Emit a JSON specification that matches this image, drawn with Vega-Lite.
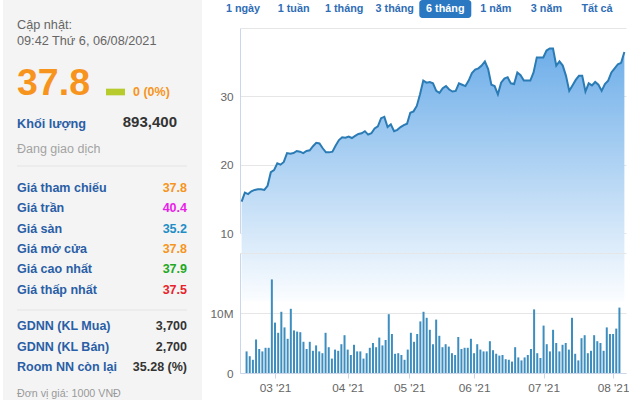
{
  "$schema": "https://vega.github.io/schema/vega-lite/v6.json",
  "padding": {"left": 3, "top": 0, "right": 0, "bottom": 0},
  "background": "white",
  "bounds": "flush",
  "spacing": 38,
  "datasets": {
    "quote": [{"price": "37.8", "change": "0 (0%)", "volume": "893,400", "status": "Đang giao dịch"}],
    "table": [
      {"label": "Giá tham chiếu", "value": "37.8", "kind": "ref"},
      {"label": "Giá trần", "value": "40.4", "kind": "ceil"},
      {"label": "Giá sàn", "value": "35.2", "kind": "floor"},
      {"label": "Giá mở cửa", "value": "37.8", "kind": "ref"},
      {"label": "Giá cao nhất", "value": "37.9", "kind": "up"},
      {"label": "Giá thấp nhất", "value": "37.5", "kind": "down"}
    ],
    "foreign": [
      {"label": "GDNN (KL Mua)", "value": "3,700"},
      {"label": "GDNN (KL Bán)", "value": "2,700"},
      {"label": "Room NN còn lại", "value": "35.28 (%)"}
    ],
    "tabs": [
      {"tab": "1 ngày", "active": false},
      {"tab": "1 tuần", "active": false},
      {"tab": "1 tháng", "active": false},
      {"tab": "3 tháng", "active": false},
      {"tab": "6 tháng", "active": true},
      {"tab": "1 năm", "active": false},
      {"tab": "3 năm", "active": false},
      {"tab": "Tất cả", "active": false}
    ],
    "series": [
      {"i": 0, "price": 14.6, "vol": 3.6}, {"i": 1, "price": 15.9, "vol": 2.8}, {"i": 2, "price": 15.7, "vol": 2.2},
      {"i": 3, "price": 16.1, "vol": 5.6}, {"i": 4, "price": 16.3, "vol": 4.0}, {"i": 5, "price": 16.4, "vol": 3.6},
      {"i": 6, "price": 16.4, "vol": 4.2}, {"i": 7, "price": 16.3, "vol": 4.2}, {"i": 8, "price": 16.9, "vol": 15.6},
      {"i": 9, "price": 18.9, "vol": 8.4}, {"i": 10, "price": 19.2, "vol": 6.7}, {"i": 11, "price": 20.2, "vol": 10.2},
      {"i": 12, "price": 20.0, "vol": 7.6}, {"i": 13, "price": 20.4, "vol": 5.7}, {"i": 14, "price": 21.7, "vol": 10.7},
      {"i": 15, "price": 21.6, "vol": 7.1}, {"i": 16, "price": 21.7, "vol": 6.9}, {"i": 17, "price": 22.0, "vol": 6.8},
      {"i": 18, "price": 21.9, "vol": 5.2}, {"i": 19, "price": 21.7, "vol": 4.0}, {"i": 20, "price": 22.0, "vol": 5.2},
      {"i": 21, "price": 22.1, "vol": 3.7}, {"i": 22, "price": 22.7, "vol": 4.6}, {"i": 23, "price": 23.2, "vol": 3.6},
      {"i": 24, "price": 23.1, "vol": 3.3}, {"i": 25, "price": 22.4, "vol": 6.7}, {"i": 26, "price": 21.8, "vol": 4.3},
      {"i": 27, "price": 21.8, "vol": 2.4}, {"i": 28, "price": 21.9, "vol": 3.9}, {"i": 29, "price": 22.8, "vol": 3.7},
      {"i": 30, "price": 23.6, "vol": 4.8}, {"i": 31, "price": 24.0, "vol": 6.3}, {"i": 32, "price": 23.95, "vol": 3.9},
      {"i": 33, "price": 24.1, "vol": 3.0}, {"i": 34, "price": 23.9, "vol": 4.7}, {"i": 35, "price": 24.2, "vol": 3.6},
      {"i": 36, "price": 24.5, "vol": 3.6}, {"i": 37, "price": 24.6, "vol": 2.4}, {"i": 38, "price": 24.9, "vol": 3.3},
      {"i": 39, "price": 24.4, "vol": 4.2}, {"i": 40, "price": 24.6, "vol": 5.0}, {"i": 41, "price": 25.3, "vol": 4.3},
      {"i": 42, "price": 25.6, "vol": 5.9}, {"i": 43, "price": 26.8, "vol": 4.6}, {"i": 44, "price": 27.0, "vol": 5.5},
      {"i": 45, "price": 25.5, "vol": 9.8}, {"i": 46, "price": 25.9, "vol": 6.5}, {"i": 47, "price": 24.9, "vol": 3.2},
      {"i": 48, "price": 25.1, "vol": 3.3}, {"i": 49, "price": 25.5, "vol": 3.0}, {"i": 50, "price": 25.8, "vol": 2.2},
      {"i": 51, "price": 26.0, "vol": 3.9}, {"i": 52, "price": 27.6, "vol": 6.7}, {"i": 53, "price": 27.8, "vol": 5.2},
      {"i": 54, "price": 28.6, "vol": 6.5}, {"i": 55, "price": 30.3, "vol": 8.6}, {"i": 56, "price": 32.3, "vol": 10.2},
      {"i": 57, "price": 32.0, "vol": 9.2}, {"i": 58, "price": 32.1, "vol": 7.2}, {"i": 59, "price": 31.9, "vol": 4.8},
      {"i": 60, "price": 30.8, "vol": 8.9}, {"i": 61, "price": 30.5, "vol": 6.2}, {"i": 62, "price": 31.2, "vol": 4.3},
      {"i": 63, "price": 31.5, "vol": 4.8}, {"i": 64, "price": 31.0, "vol": 4.4}, {"i": 65, "price": 30.7, "vol": 3.3},
      {"i": 66, "price": 30.8, "vol": 3.0}, {"i": 67, "price": 31.9, "vol": 6.0}, {"i": 68, "price": 31.7, "vol": 4.0},
      {"i": 69, "price": 31.5, "vol": 4.2}, {"i": 70, "price": 32.3, "vol": 4.2}, {"i": 71, "price": 33.4, "vol": 5.7},
      {"i": 72, "price": 33.9, "vol": 3.3}, {"i": 73, "price": 34.1, "vol": 4.8}, {"i": 74, "price": 34.5, "vol": 3.9},
      {"i": 75, "price": 35.1, "vol": 3.6}, {"i": 76, "price": 34.0, "vol": 3.6}, {"i": 77, "price": 31.7, "vol": 5.3},
      {"i": 78, "price": 31.5, "vol": 3.8}, {"i": 79, "price": 30.3, "vol": 3.2}, {"i": 80, "price": 32.0, "vol": 2.9},
      {"i": 81, "price": 32.6, "vol": 3.0}, {"i": 82, "price": 32.8, "vol": 2.3}, {"i": 83, "price": 31.9, "vol": 2.2},
      {"i": 84, "price": 31.8, "vol": 1.9}, {"i": 85, "price": 33.5, "vol": 4.3}, {"i": 86, "price": 33.1, "vol": 2.6},
      {"i": 87, "price": 32.3, "vol": 2.1}, {"i": 88, "price": 32.3, "vol": 2.6}, {"i": 89, "price": 32.3, "vol": 3.0},
      {"i": 90, "price": 33.5, "vol": 4.0}, {"i": 91, "price": 35.7, "vol": 10.6}, {"i": 92, "price": 35.7, "vol": 3.3},
      {"i": 93, "price": 35.7, "vol": 2.5}, {"i": 94, "price": 36.7, "vol": 7.9}, {"i": 95, "price": 37.0, "vol": 4.8},
      {"i": 96, "price": 37.0, "vol": 3.6}, {"i": 97, "price": 34.5, "vol": 7.2}, {"i": 98, "price": 35.1, "vol": 5.0},
      {"i": 99, "price": 34.5, "vol": 3.6}, {"i": 100, "price": 33.0, "vol": 4.7}, {"i": 101, "price": 30.8, "vol": 5.0},
      {"i": 102, "price": 31.6, "vol": 3.9}, {"i": 103, "price": 32.4, "vol": 9.2}, {"i": 104, "price": 33.0, "vol": 3.2},
      {"i": 105, "price": 33.0, "vol": 2.1}, {"i": 106, "price": 30.7, "vol": 5.8}, {"i": 107, "price": 31.9, "vol": 6.3},
      {"i": 108, "price": 31.6, "vol": 3.3}, {"i": 109, "price": 32.1, "vol": 3.7}, {"i": 110, "price": 31.7, "vol": 6.3},
      {"i": 111, "price": 30.8, "vol": 5.3}, {"i": 112, "price": 31.8, "vol": 5.0}, {"i": 113, "price": 32.3, "vol": 3.7},
      {"i": 114, "price": 33.5, "vol": 7.6}, {"i": 115, "price": 34.1, "vol": 6.5}, {"i": 116, "price": 34.7, "vol": 6.5},
      {"i": 117, "price": 34.9, "vol": 7.4}, {"i": 118, "price": 36.5, "vol": 10.9}
    ]
  },
  "hconcat": [
    {
      "width": 199,
      "height": 400,
      "view": {"fill": "#f4f4f4", "stroke": null},
      "data": {"name": "quote"},
      "resolve": {"scale": {"x": "independent", "y": "independent", "color": "independent"}},
      "layer": [
        {
          "data": {"values": [{"line": "Cập nhật:"}, {"line": "09:42 Thứ 6, 06/08/2021"}]},
          "mark": {"type": "text", "align": "left", "baseline": "alphabetic", "fontSize": 12.7, "color": "#666666"},
          "encoding": {
            "x": {"datum": "label", "type": "nominal", "scale": {"type": "point", "domain": ["label", "value"], "range": [14, 184], "padding": 0}, "axis": null},
            "y": {"field": "line", "type": "nominal", "sort": null, "scale": {"type": "point", "range": [28.5, 44.5], "padding": 0}, "axis": null},
            "text": {"field": "line"}
          }
        },
        {
          "mark": {"type": "text", "align": "left", "baseline": "alphabetic", "fontSize": 37.5, "fontWeight": "bold", "color": "#f7941d"},
          "encoding": {
            "x": {"datum": "label", "type": "nominal", "scale": {"type": "point", "domain": ["label", "value"], "range": [14, 184], "padding": 0}, "axis": null},
            "y": {"datum": "a", "type": "nominal", "scale": {"type": "point", "domain": ["a"], "range": [94, 96], "padding": 0}, "axis": null},
            "text": {"field": "price"}
          }
        },
        {
          "mark": {"type": "point", "shape": "M-1,-0.35L1,-0.35L1,0.35L-1,0.35Z", "size": 361, "filled": true, "opacity": 1, "color": "#b7cb2c"},
          "encoding": {
            "x": {"datum": "flag", "type": "nominal", "scale": {"type": "point", "domain": ["flag", "pct"], "range": [112.5, 130], "padding": 0}, "axis": null},
            "y": {"datum": "a", "type": "nominal", "scale": {"type": "point", "domain": ["a"], "range": [91, 93], "padding": 0}, "axis": null}
          }
        },
        {
          "mark": {"type": "text", "align": "left", "baseline": "alphabetic", "fontSize": 12.5, "fontWeight": "bold", "color": "#f7941d"},
          "encoding": {
            "x": {"datum": "pct", "type": "nominal", "scale": {"type": "point", "domain": ["flag", "pct"], "range": [112.5, 130], "padding": 0}, "axis": null},
            "y": {"datum": "a", "type": "nominal", "scale": {"type": "point", "domain": ["a"], "range": [94.5, 96.5], "padding": 0}, "axis": null},
            "text": {"field": "change"}
          }
        },
        {
          "mark": {"type": "text", "text": "Khối lượng", "align": "left", "baseline": "alphabetic", "fontSize": 12.7, "fontWeight": "bold", "color": "#2a5ea6"},
          "encoding": {
            "x": {"datum": "label", "type": "nominal", "scale": {"type": "point", "domain": ["label", "value"], "range": [14, 184], "padding": 0}, "axis": null},
            "y": {"datum": "a", "type": "nominal", "scale": {"type": "point", "domain": ["a"], "range": [126.5, 128.5], "padding": 0}, "axis": null}
          }
        },
        {
          "mark": {"type": "text", "align": "right", "baseline": "alphabetic", "fontSize": 15, "fontWeight": "bold", "color": "#333333"},
          "encoding": {
            "x": {"datum": "value", "type": "nominal", "scale": {"type": "point", "domain": ["label", "value"], "range": [14, 174], "padding": 0}, "axis": null},
            "y": {"datum": "a", "type": "nominal", "scale": {"type": "point", "domain": ["a"], "range": [125.5, 127.5], "padding": 0}, "axis": null},
            "text": {"field": "volume"}
          }
        },
        {
          "mark": {"type": "text", "align": "left", "baseline": "alphabetic", "fontSize": 12.5, "color": "#a3a3a3"},
          "encoding": {
            "x": {"datum": "label", "type": "nominal", "scale": {"type": "point", "domain": ["label", "value"], "range": [14, 184], "padding": 0}, "axis": null},
            "y": {"datum": "a", "type": "nominal", "scale": {"type": "point", "domain": ["a"], "range": [151.5, 153.5], "padding": 0}, "axis": null},
            "text": {"field": "status"}
          }
        },
        {
          "data": {"values": [{"sep": "top"}, {"sep": "bottom"}]},
          "mark": {"type": "rule", "color": "#e4e4e4", "strokeWidth": 1},
          "encoding": {
            "x": {"datum": 0, "type": "quantitative", "scale": {"domain": [0, 1], "range": [14, 184]}, "axis": null},
            "x2": {"datum": 1},
            "y": {"field": "sep", "type": "nominal", "sort": null, "scale": {"type": "point", "range": [166, 310], "padding": 0}, "axis": null}
          }
        },
        {
          "data": {"name": "table"},
          "mark": {"type": "text", "align": "left", "baseline": "alphabetic", "fontSize": 12.5, "fontWeight": "bold", "color": "#2a5ea6"},
          "encoding": {
            "x": {"datum": "label", "type": "nominal", "scale": {"type": "point", "domain": ["label", "value"], "range": [14, 184], "padding": 0}, "axis": null},
            "y": {"field": "label", "type": "nominal", "sort": null, "scale": {"type": "point", "range": [191.7, 293.7], "padding": 0}, "axis": null},
            "text": {"field": "label"}
          }
        },
        {
          "data": {"name": "table"},
          "mark": {"type": "text", "align": "right", "baseline": "alphabetic", "fontSize": 12.5, "fontWeight": "bold"},
          "encoding": {
            "x": {"datum": "value", "type": "nominal", "scale": {"type": "point", "domain": ["label", "value"], "range": [14, 184], "padding": 0}, "axis": null},
            "y": {"field": "label", "type": "nominal", "sort": null, "scale": {"type": "point", "range": [191.7, 293.7], "padding": 0}, "axis": null},
            "text": {"field": "value"},
            "color": {"field": "kind", "type": "nominal", "scale": {"domain": ["ref", "ceil", "floor", "up", "down"], "range": ["#f7941d", "#ea1cea", "#1f8ec6", "#22a822", "#e8232b"]}, "legend": null}
          }
        },
        {
          "data": {"name": "foreign"},
          "mark": {"type": "text", "align": "left", "baseline": "alphabetic", "fontSize": 12.5, "fontWeight": "bold", "color": "#2a5ea6"},
          "encoding": {
            "x": {"datum": "label", "type": "nominal", "scale": {"type": "point", "domain": ["label", "value"], "range": [14, 184], "padding": 0}, "axis": null},
            "y": {"field": "label", "type": "nominal", "sort": null, "scale": {"type": "point", "range": [330, 371], "padding": 0}, "axis": null},
            "text": {"field": "label"}
          }
        },
        {
          "data": {"name": "foreign"},
          "mark": {"type": "text", "align": "right", "baseline": "alphabetic", "fontSize": 12.5, "fontWeight": "bold", "color": "#333333"},
          "encoding": {
            "x": {"datum": "value", "type": "nominal", "scale": {"type": "point", "domain": ["label", "value"], "range": [14, 184], "padding": 0}, "axis": null},
            "y": {"field": "label", "type": "nominal", "sort": null, "scale": {"type": "point", "range": [330, 371], "padding": 0}, "axis": null},
            "text": {"field": "value"}
          }
        },
        {
          "mark": {"type": "text", "text": "Đơn vị giá: 1000 VNĐ", "align": "left", "baseline": "alphabetic", "fontSize": 10.7, "color": "#999999"},
          "encoding": {
            "x": {"datum": "label", "type": "nominal", "scale": {"type": "point", "domain": ["label", "value"], "range": [14, 184], "padding": 0}, "axis": null},
            "y": {"datum": "a", "type": "nominal", "scale": {"type": "point", "domain": ["a"], "range": [396, 398], "padding": 0}, "axis": null}
          }
        }
      ]
    },
    {
      "bounds": "flush",
      "spacing": 10,
      "vconcat": [
        {
          "width": 386,
          "height": 18,
          "data": {"name": "tabs"},
          "encoding": {
            "x": {"field": "tab", "type": "nominal", "sort": null, "scale": {"type": "point", "range": [3, 357], "padding": 0}, "axis": null}
          },
          "layer": [
            {
              "mark": {"type": "bar", "width": 52, "cornerRadius": 3, "color": "#2b78c2"},
              "encoding": {"opacity": {"condition": {"test": "datum.active", "value": 1}, "value": 0}}
            },
            {
              "mark": {"type": "text", "fontSize": 10.8, "fontWeight": "bold", "baseline": "middle"},
              "encoding": {
                "text": {"field": "tab"},
                "color": {"condition": {"test": "datum.active", "value": "#ffffff"}, "value": "#2f6db5"}
              }
            }
          ]
        },
        {
          "bounds": "flush",
          "spacing": 20,
          "vconcat": [
            {
              "width": 386,
              "height": 205,
              "data": {"name": "series"},
              "encoding": {
                "x": {"field": "i", "type": "quantitative", "scale": {"domain": [-0.5, 118.5], "nice": false, "zero": false}, "axis": null},
                "y": {"field": "price", "type": "quantitative", "scale": {"domain": [10, 40], "nice": false, "zero": false},
                  "axis": {"values": [10, 20, 30, 40], "labelExpr": "datum.value == 40 ? '' : datum.label", "title": null, "grid": true, "ticks": false, "tickSize": 0, "labelPadding": 7, "domain": true}}
              },
              "layer": [
                {
                  "mark": {"type": "area", "color": {"gradient": "linear", "x1": 0, "y1": 0, "x2": 0, "y2": 1, "stops": [{"offset": 0, "color": "#6eaee9"}, {"offset": 1, "color": "#fbfdff"}]}, "opacity": 1}
                },
                {
                  "mark": {"type": "line", "color": "#2b7bb5", "strokeWidth": 2}
                }
              ]
            },
            {
              "width": 386,
              "height": 120,
              "data": {"name": "series"},
              "mark": {"type": "bar", "width": 2, "color": "#3d8dbf"},
              "encoding": {
                "x": {"field": "i", "type": "quantitative", "scale": {"domain": [-0.5, 118.5], "nice": false, "zero": false},
                  "axis": {"values": [9, 32, 51.5, 72, 94, 116], "labelExpr": "datum.value == 9 ? \"03 '21\" : datum.value == 32 ? \"04 '21\" : datum.value == 51.5 ? \"05 '21\" : datum.value == 72 ? \"06 '21\" : datum.value == 94 ? \"07 '21\" : \"08 '21\"", "title": null, "grid": false, "ticks": true, "tickSize": 5, "labelPadding": 4, "domain": true}},
                "y": {"field": "vol", "type": "quantitative", "scale": {"domain": [0, 20], "nice": false},
                  "axis": {"values": [0, 10, 20], "labelExpr": "datum.value == 0 ? '0' : datum.value == 20 ? '' : datum.value + 'M'", "title": null, "grid": true, "ticks": false, "tickSize": 0, "labelPadding": 7, "domain": true}}
              }
            }
          ]
        }
      ]
    }
  ],
  "config": {
    "view": {"stroke": null},
    "font": "Liberation Sans",
    "axis": {"labelFont": "Liberation Sans", "labelColor": "#666666", "labelFontSize": 11.8, "gridColor": "#e6e6e6", "domainColor": "#ccd6eb", "tickColor": "#ccd6eb"}
  }
}
